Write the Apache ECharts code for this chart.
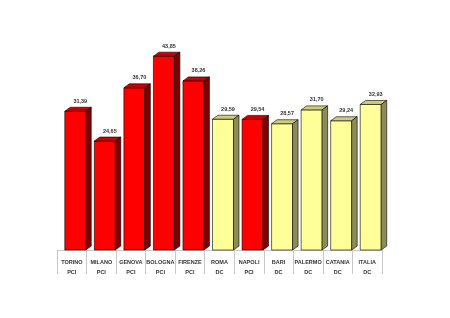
<!DOCTYPE html>
<html><head><meta charset="utf-8">
<script src="https://cdn.jsdelivr.net/npm/echarts@6/dist/echarts.min.js"></script>
<style>html,body{margin:0;padding:0;background:#fff}#c{width:450px;height:318px}</style>
</head><body><div id="c"></div>
<script>
const cities = ['TORINO','MILANO','GENOVA','BOLOGNA','FIRENZE','ROMA','NAPOLI','BARI','PALERMO','CATANIA','ITALIA'];
const parties = ['PCI','PCI','PCI','PCI','PCI','DC','PCI','DC','DC','DC','DC'];
const values = [31.39, 24.65, 36.70, 43.85, 38.26, 29.59, 29.54, 28.57, 31.70, 29.24, 32.93];

const palette = {
  PCI: {front:'#FF0000', top:'#CC0000', side:'#800000'},
  DC:  {front:'#FFFF99', top:'#CCCC7A', side:'#8C8C58'}
};
const chart = echarts.init(document.getElementById('c'), null, {renderer:'canvas'});
const data = values.map((v,i)=>[i, v, parties[i]]);

function renderItem(params, api){
  const i = api.value(0);
  const v = api.value(1);
  const base = api.coord([i, 0]);
  const top = api.coord([i, v]);
  const bw = api.size([1,0])[0]*0.71;
  const d = 5.5, dv = 4;
  const x0 = base[0] - bw/2 + 3.5;
  const x1 = x0 + bw;
  const c = palette[parties[i]];
  const line = {stroke:'#000', lineWidth:0.6};
  return {type:'group', children:[
    {type:'rect', shape:{x:x0, y:top[1], width:bw, height:base[1]-top[1]}, style:Object.assign({fill:c.front}, line)},
    {type:'polygon', shape:{points:[[x0,top[1]],[x0+d,top[1]-dv],[x1+d,top[1]-dv],[x1,top[1]]]}, style:Object.assign({fill:c.top}, line)},
    {type:'polygon', shape:{points:[[x1,top[1]],[x1+d,top[1]-dv],[x1+d,base[1]-dv],[x1,base[1]]]}, style:Object.assign({fill:c.side}, line)},
    {type:'text', style:{x:x0+bw/2+5, y:top[1]-dv-6, text:v.toFixed(2).replace('.',','), fill:'#333', font:'bold 5.5px "Liberation Sans", Arial, sans-serif', align:'center', verticalAlign:'middle'}}
  ]};
}

chart.setOption({
  animation:false,
  backgroundColor:'#fff',
  grid:{left:57, right:68, top:29, bottom:68},
  xAxis:{
    type:'category', data:cities, boundaryGap:true, offset:3,
    axisLine:{show:true, lineStyle:{color:'#C8C8C8', width:1}},
    axisTick:{show:true, interval:0, length:24, lineStyle:{color:'#C8C8C8', width:1}},
    axisLabel:{interval:0, margin:4, formatter:(val, idx)=>'{a|'+val+'}\n{a|'+parties[idx]+'}',
      rich:{a:{fontSize:5.5, fontWeight:'bold', color:'#333', lineHeight:10.5, fontFamily:'"Liberation Sans", Arial, sans-serif'}}}
  },
  yAxis:{type:'value', min:0, max:50, show:false, splitLine:{show:false}},
  series:[{type:'custom', renderItem:renderItem, data:data, encode:{x:0,y:1}, clip:false}]
});
</script></body></html>
